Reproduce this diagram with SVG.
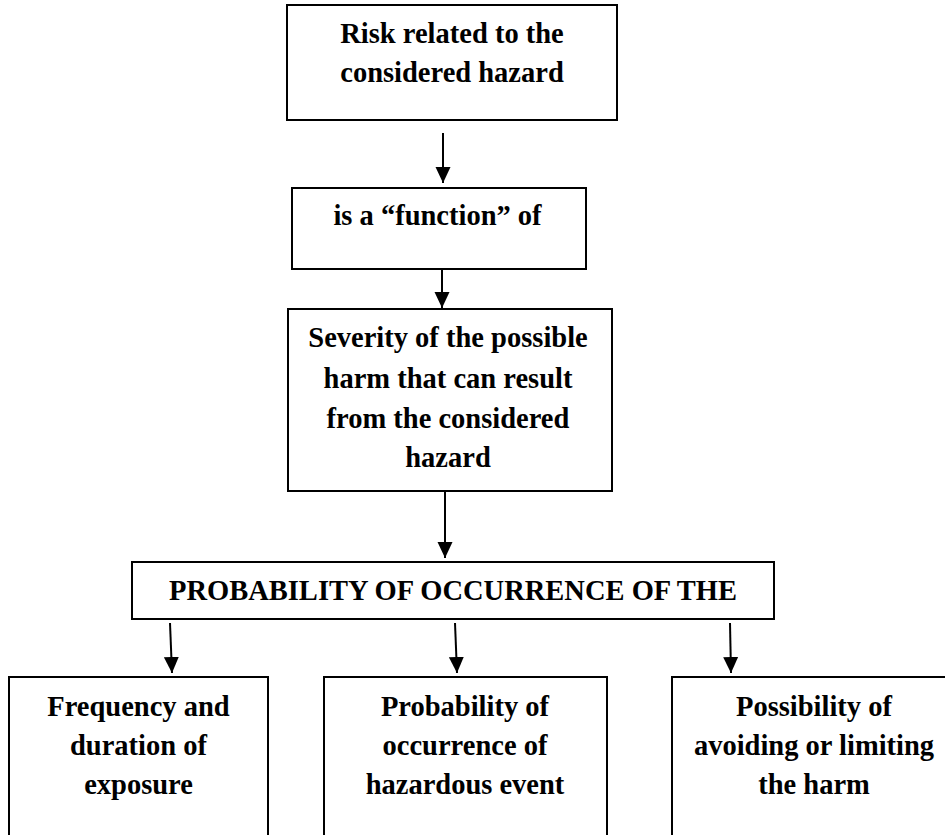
<svg xmlns="http://www.w3.org/2000/svg" width="945" height="835" viewBox="0 0 945 835">
  <style>
    .box { fill: #ffffff; stroke: #000000; stroke-width: 2; }
    .lbl { font-family: "Liberation Serif", "Times New Roman", serif; font-weight: bold; font-size: 28.5px; fill: #000000; text-anchor: middle; }
    .conn { stroke: #000000; stroke-width: 2; fill: none; marker-end: url(#arrow); }
  </style>
  <defs>
    <marker id="arrow" markerUnits="userSpaceOnUse" markerWidth="18" markerHeight="18" viewBox="0 -9 18 18" refX="16" refY="0" orient="auto">
      <path d="M0,-7.5 L16,0 L0,7.5 z" fill="#000000"/>
    </marker>
  </defs>
  <rect width="945" height="835" fill="#ffffff"/>

  <g id="risk">
    <rect class="box" x="287" y="5" width="330" height="115"/>
    <text class="lbl" x="452" y="43">Risk related to the</text>
    <text class="lbl" x="452" y="82">considered hazard</text>
  </g>

  <g id="function">
    <rect class="box" x="292" y="188" width="294" height="81"/>
    <text class="lbl" x="437.5" y="225">is a “function” of</text>
  </g>

  <g id="severity">
    <rect class="box" x="288" y="309" width="324" height="182"/>
    <text class="lbl" x="448" y="347">Severity of the possible</text>
    <text class="lbl" x="448" y="388">harm that can result</text>
    <text class="lbl" x="448" y="428">from the considered</text>
    <text class="lbl" x="448" y="467">hazard</text>
  </g>

  <g id="probability">
    <rect class="box" x="132" y="562" width="642" height="57"/>
    <text class="lbl" x="453" y="600">PROBABILITY OF OCCURRENCE OF THE</text>
  </g>

  <g id="frequency">
    <rect class="box" x="9" y="677" width="259" height="175"/>
    <text class="lbl" x="138.5" y="716">Frequency and</text>
    <text class="lbl" x="138.5" y="755">duration of</text>
    <text class="lbl" x="138.5" y="794">exposure</text>
  </g>

  <g id="hazardous-event">
    <rect class="box" x="324" y="677" width="283" height="175"/>
    <text class="lbl" x="465" y="716">Probability of</text>
    <text class="lbl" x="465" y="755">occurrence of</text>
    <text class="lbl" x="465" y="794">hazardous event</text>
  </g>

  <g id="avoiding">
    <rect class="box" x="672" y="677" width="290" height="175"/>
    <text class="lbl" x="814" y="716">Possibility of</text>
    <text class="lbl" x="814" y="755">avoiding or limiting</text>
    <text class="lbl" x="814" y="794">the harm</text>
  </g>

  <g id="connectors">
    <line class="conn" x1="443" y1="133" x2="443" y2="183"/>
    <line class="conn" x1="442" y1="270" x2="442" y2="308"/>
    <line class="conn" x1="445" y1="491" x2="445" y2="558"/>
    <line class="conn" x1="170" y1="623" x2="172" y2="673"/>
    <line class="conn" x1="455" y1="623" x2="457" y2="673"/>
    <line class="conn" x1="730" y1="623" x2="731" y2="673"/>
  </g>
</svg>
